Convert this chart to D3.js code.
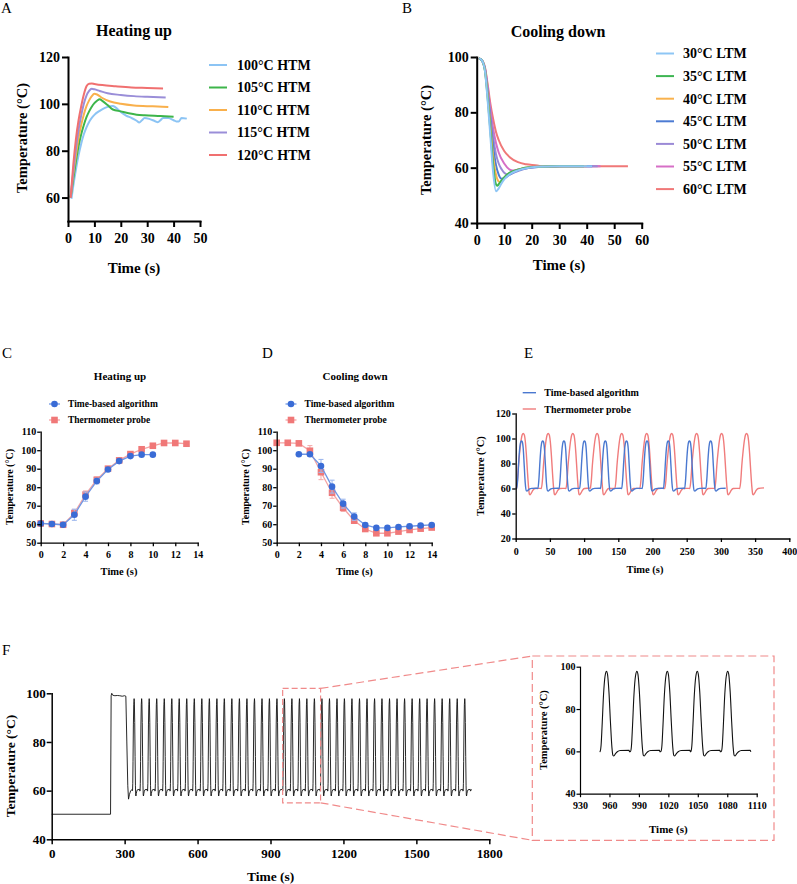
<!DOCTYPE html>
<html><head><meta charset="utf-8">
<script src="https://cdn.jsdelivr.net/npm/d3@7"></script>
<style>body{margin:0;background:#fff}svg{display:block}</style>
</head><body><svg id="fig" width="797" height="884"></svg>
<script>
// ---------------- DATA ----------------
// Panel A: heating up, [time s, temperature °C]
const heatLabels = ["100°C HTM","105°C HTM","110°C HTM","115°C HTM","120°C HTM"];
const heat100 = [[1.3,59.5],[2,65],[3,72],[4,78],[5,83],[6,87],[7,90],[8,92.3],[9,94],[10,95.3],[12,97],[14,98.3],[16,99],[17,99.1],[18,98.5],[20,96.5],[22,95],[24,94],[26,92.8],[27,92],[28,93],[29,94],[31,93.5],[33,92.6],[34,92.2],[35,93],[36,94],[38,94],[40,93],[41,92.5],[42,92.5],[43,94],[45,93.7]];
const heat105 = [[1,60],[2,68],[3,75.5],[4,82],[5,87],[6,91],[7,94.3],[8,96.8],[9,98.8],[10,100.3],[11,101.3],[12,102],[13,101.3],[15,99.5],[17,97.6],[20,96.8],[23,96],[26,95.4],[29,95.1],[35,94.8],[40,94.5]];
const heat110 = [[1,60],[2,70],[3,78],[4,85.5],[5,91],[6,95.5],[7,99],[8,101.5],[9,103.3],[10,104.3],[11,104],[13,102.5],[16,101],[20,100],[25,99.3],[30,99],[34,98.9],[38,98.7]];
const heat115 = [[1,60],[2,71],[3,81],[4,89],[5,95],[6,100],[7,103.5],[8,105.5],[9,106.4],[10,106.2],[12,105.5],[15,104.5],[20,103.8],[25,103.3],[30,103],[37,102.7]];
const heat120 = [[1,60],[2,74],[3,85],[4,93],[5,99],[6,104],[7,107.5],[8,108.6],[9,108.7],[10,108.5],[13,108],[18,107.5],[24,107],[30,106.8],[36,106.6]];
const heatSeries = [heat100, heat105, heat110, heat115, heat120];
const heatColors = ["#8CC4F4","#3DB54A","#F9B04C","#9A8ED8","#F07070"];

// Panel B: cooling down
const coolLabels = ["30°C LTM","35°C LTM","40°C LTM","45°C LTM","50°C LTM","55°C LTM","60°C LTM"];
const cool30 = [[0.8,99.5],[1.5,99.2],[2.3,98],[3,95],[4,84],[5,71],[6,58],[7,51.5],[8,52.5],[9,54.3],[10,55.8],[12,57.6],[15,59],[18,59.8],[22,60.3],[30,60.5],[42,60.5]];
const cool35 = [[0.8,99.5],[1.5,99.2],[2.3,98],[3,95],[4,85],[5,73],[6,61],[7,54],[7.5,53.5],[8,54],[9,55.3],[10,56.5],[12,58.2],[15,59.3],[20,60.2],[30,60.5],[39,60.5]];
const cool40 = [[0.8,99.5],[1.5,99.2],[2.3,98],[3,95.3],[4,86],[5,75],[6,64],[7,57.5],[8,55],[8.5,54.8],[9,55.2],[10,56.4],[12,58],[15,59.3],[20,60.2],[30,60.5],[40,60.5]];
const cool45 = [[0.8,99.5],[1.5,99.2],[2.3,98],[3,95.5],[4,87],[5,77],[6,67.5],[7,61],[8,57.5],[9,56],[10,56.2],[12,57.5],[15,59],[20,60.1],[30,60.5],[42,60.5]];
const cool50 = [[0.8,99.5],[1.5,99.2],[2.3,98],[3,95.8],[4,88],[5,79],[6,71],[7,65],[8,61.5],[9,59.5],[10,58.2],[11.5,57.5],[13,58],[15,58.8],[18,59.7],[22,60.2],[30,60.5],[44,60.5]];
const cool55 = [[0.8,99.5],[1.5,99.2],[2.3,98],[3,96],[4,89],[5,81],[6,74],[7,69],[8,65.5],[10,61.5],[12,59.3],[13,59],[15,59.3],[18,59.9],[22,60.3],[30,60.5],[45,60.5]];
const cool60 = [[0.8,99.5],[1.5,99.2],[2.3,98.3],[3,96.3],[4,90],[5,83],[6,77.5],[7,73],[8,70],[10,66],[12,63.8],[15,62],[18,61.2],[22,60.8],[25,60.2],[28,60.3],[32,60.5],[55,60.5]];
const coolSeries = [cool30, cool35, cool40, cool45, cool50, cool55, cool60];
const coolColors = ["#8EC6F5","#3DB552","#F9B24D","#4C7BD3","#9B8AD6","#D66FC6","#F07878"];

// Panel C: heating up, mean ± SD
const cProbeTime = [0,1,2,3,4,5,6,7,8,9,10,11,12,13];
const cProbe     = [60.4,60.1,59.7,66,76,84,90,94.5,97.9,100.5,102.4,103.9,103.9,103.5];
const cProbeSD   = [0.5,0.4,0.4,2,2,1.5,1.2,1,0.8,0.6,0.6,0.5,0.5,0.5];
const cAlgoTime  = [0,1,2,3,4,5,6,7,8,9,10];
const cAlgo      = [60.4,60.1,59.7,65.1,74.9,83.3,89.6,94.1,96.8,97.6,97.6];
const cAlgoSD    = [0.4,0.4,0.4,3,2.5,1.5,1,0.8,0.6,0.5,0.5];

// Panel D: cooling down, mean ± SD
const dProbeTime = [0,1,2,3,4,5,6,7,8,9,10,11,12,13,14];
const dProbe     = [104,104,103.7,99.7,88.1,77,68.9,61.9,57.4,55.1,55.1,56,56.9,57.6,58.2];
const dProbeSD   = [0.5,0.5,0.5,2.8,4,3,2,1.2,0.8,0.6,0.6,0.6,0.6,0.6,0.6];
const dAlgoTime  = [2,3,4,5,6,7,8,9,10,11,12,13,14];
const dAlgo      = [97.8,97.8,91.5,80.3,71.1,64.1,59.6,58,58,58.5,58.9,59.3,59.6];
const dAlgoSD    = [0.5,0.8,3.5,3.5,2.4,2,1,0.6,0.5,0.5,0.5,0.5,0.5];

const legendNames = ["Time-based algorithm","Thermometer probe"];

// Panel E: cycles (peak times, one cycle shape per series)
const eAlgoPeaks  = [8.5,39.5,70.5,100.5,131,162,192,223,254,285];
const eAlgoShape  = [[-7,60],[-5.5,68],[-4,82],[-2.5,93],[-1,97.5],[0,98],[1,97.5],[2.5,92],[4,78],[5.5,64],[7,58.2],[8,58],[10,58.9],[12,59.7],[15,60.1],[22.5,60.2]];
const eAlgoEnds   = [[0,60],[307,60.2]];
const eProbePeaks = [11,47.5,83.5,119,155,191.5,228,264.5,301,337.5];
const eProbeShape = [[-10,60],[-8.5,66],[-7,78],[-5,90],[-3,99],[-1.5,103],[0,104],[1.5,103],[3,98],[4.5,88],[6,75],[7.5,63],[9,55.5],[10,55],[12,56.5],[14,58.5],[17,60],[26,60.3]];
const eProbeEnds  = [[1,60],[363,60.5]];

// Panel F: long run
const fHead  = [[0,50.3],[242,50.3],[244.5,99],[247,100],[251,99.2],[260,99],[270,99.1],[280,99],[290,98.8],[300,99],[305,98.8],[309,80],[313,62],[316,56.5],[320,58.5],[325,60],[331,60.4]];
const fPeaks = [339,370,401,432,463,494,524.5,555.5,586.5,617.5,648.5,679.5,710,741,772,803,834,865,895.5,926.5,957,988,1019,1049.5,1080.5,1111.5,1142.5,1173.5,1204,1235,1266,1297,1328,1358.5,1389.5,1420.5,1451.5,1482.5,1513.5,1544,1575,1606,1637,1668,1699];
const fShape = [[-6.5,60],[-5.5,63],[-4.5,72],[-3,87],[-1.5,95.5],[0,97.8],[1,96.5],[2.5,88],[4,74],[5.5,62],[6.5,58.2],[7.5,57.8],[9,58.8],[11,59.8],[14,60.4],[23,60.5],[23.5,59.8]];
const fEnd   = 1727;

// ticks
const ticksA = {x:[0,10,20,30,40,50], y:[60,80,100,120]};
const ticksB = {x:[0,10,20,30,40,50,60], y:[40,60,80,100]};
const ticksCD = {x:[0,2,4,6,8,10,12,14], y:[50,60,70,80,90,100,110]};
const ticksE = {x:[0,50,100,150,200,250,300,350,400], y:[20,40,60,80,100,120]};
const ticksF = {x:[0,300,600,900,1200,1500,1800], y:[40,60,80,100]};
const ticksI = {x:[930,960,990,1020,1050,1080,1110], y:[40,60,80,100]};

// ---------------- DRAWING ----------------
const FONT = '"Liberation Serif","Times New Roman",Times,serif';
const svg = d3.select("#fig");

function txt(x, y, s, size, o = {}) {
  const t = svg.append("text").attr("x", x).attr("y", y).attr("dy", "0.35em")
    .attr("font-size", size).attr("font-family", FONT)
    .attr("font-weight", o.w || "bold").attr("text-anchor", o.a || "middle")
    .attr("fill", "#000").text(s);
  if (o.rot) t.attr("transform", `rotate(-90,${x},${y})`);
  return t;
}

function axes(x, y, t, o) {
  const g = svg.append("g");
  const xa = d3.axisBottom(x).tickValues(t.x).tickSize(o.tl).tickSizeOuter(0).tickPadding(o.xp).tickFormat(d => d);
  const ya = d3.axisLeft(y).tickValues(t.y).tickSize(o.tl).tickSizeOuter(0).tickPadding(o.yp).tickFormat(d => d);
  const gx = g.append("g").attr("transform", `translate(0,${y.range()[0]})`).call(xa);
  const gy = g.append("g").attr("transform", `translate(${x.range()[0]},0)`).call(ya);
  [gx, gy].forEach(a => {
    a.select(".domain").attr("stroke", "#000").attr("stroke-width", o.sw).attr("stroke-linecap", "square");
    a.selectAll(".tick line").attr("stroke", "#000").attr("stroke-width", o.sw);
    a.selectAll("text").attr("font-size", o.fs).attr("font-family", FONT).attr("font-weight", "bold").attr("fill", "#000");
  });
  return g;
}

function cycles(peaks, shape) {
  const out = [];
  peaks.forEach(p => shape.forEach(([dt, v]) => out.push([p + dt, v])));
  return out;
}

// ---- Panel A ----
const xA = d3.scaleLinear().domain([0, 50]).range([68, 200]);
const yA = d3.scaleLinear().domain([50, 120]).range([221, 57]);
const lineA = d3.line().x(d => xA(d[0])).y(d => yA(d[1])).curve(d3.curveMonotoneX);
heatSeries.forEach((s, i) => svg.append("path").attr("d", lineA(s)).attr("fill", "none")
  .attr("stroke", heatColors[i]).attr("stroke-width", 2));
axes(xA, yA, ticksA, {tl: 6, xp: 6, yp: 2, sw: 2, fs: 14});
txt(1, 8, "A", 15, {w: "normal", a: "start"});
txt(134, 30, "Heating up", 16);
txt(134, 268, "Time (s)", 15);
txt(21.7, 138, "Temperature (°C)", 14.5, {rot: true});
heatLabels.forEach((l, i) => {
  const yy = 65 + i * 22.5;
  svg.append("line").attr("x1", 209).attr("x2", 227).attr("y1", yy).attr("y2", yy)
    .attr("stroke", heatColors[i]).attr("stroke-width", 2);
  txt(237, yy, l, 14, {a: "start"});
});

// ---- Panel B ----
const xB = d3.scaleLinear().domain([0, 60]).range([476.7, 641.7]);
const yB = d3.scaleLinear().domain([40, 100]).range([223, 57]);
const lineB = d3.line().x(d => xB(d[0])).y(d => yB(d[1])).curve(d3.curveMonotoneX);
coolSeries.slice().reverse().forEach((s, j) => {
  const i = coolSeries.length - 1 - j;
  svg.append("path").attr("d", lineB(s)).attr("fill", "none")
    .attr("stroke", coolColors[i]).attr("stroke-width", 2);
});
axes(xB, yB, ticksB, {tl: 6, xp: 6, yp: 2, sw: 2, fs: 14});
txt(402, 8, "B", 15, {w: "normal", a: "start"});
txt(558, 31, "Cooling down", 16);
txt(559, 265, "Time (s)", 15);
txt(425.7, 140, "Temperature (°C)", 14.5, {rot: true});
coolLabels.forEach((l, i) => {
  const yy = 53.5 + i * 22.6;
  svg.append("line").attr("x1", 656).attr("x2", 674).attr("y1", yy).attr("y2", yy)
    .attr("stroke", coolColors[i]).attr("stroke-width", 2);
  txt(683, yy, l, 14, {a: "start"});
});

// ---- Panels C & D ----
const blue = {mark: "#3A6CD6", line: "#6F96E4", err: "#9FB9EE"};
const red  = {mark: "#F07878", line: "#F4A3A3", err: "#F5B0B0"};

function meanPanel(x, y, sets) {
  const line = d3.line().x(d => x(d[0])).y(d => y(d[1]));
  sets.forEach(s => {
    const pts = s.t.map((t, i) => [t, s.v[i], s.e[i]]);
    svg.append("path").attr("d", line(pts)).attr("fill", "none").attr("stroke", s.c.line).attr("stroke-width", 1.3);
    const g = svg.append("g");
    pts.forEach(p => {
      const x0 = x(p[0]), yl = y(p[1] - p[2]), yh = y(p[1] + p[2]);
      g.append("line").attr("x1", x0).attr("x2", x0).attr("y1", yl).attr("y2", yh).attr("stroke", s.c.err).attr("stroke-width", 1.1);
      [yl, yh].forEach(yy => g.append("line").attr("x1", x0 - 2.5).attr("x2", x0 + 2.5).attr("y1", yy).attr("y2", yy).attr("stroke", s.c.err).attr("stroke-width", 1.1));
    });
    pts.forEach(p => {
      if (s.shape === "circle") g.append("circle").attr("cx", x(p[0])).attr("cy", y(p[1])).attr("r", 3.3).attr("fill", s.c.mark);
      else g.append("rect").attr("x", x(p[0]) - 3.3).attr("y", y(p[1]) - 3.3).attr("width", 6.6).attr("height", 6.6).attr("fill", s.c.mark);
    });
  });
}

function meanLegend(xm, y0) {
  [[blue, "circle"], [red, "square"]].forEach(([c, sh], i) => {
    const yy = y0 + i * 16;
    svg.append("line").attr("x1", xm - 5.5).attr("x2", xm + 5.5).attr("y1", yy).attr("y2", yy).attr("stroke", c.line).attr("stroke-width", 1.3);
    if (sh === "circle") svg.append("circle").attr("cx", xm).attr("cy", yy).attr("r", 3.3).attr("fill", c.mark);
    else svg.append("rect").attr("x", xm - 3.3).attr("y", yy - 3.3).attr("width", 6.6).attr("height", 6.6).attr("fill", c.mark);
    txt(xm + 13.5, yy, legendNames[i], 9.5, {a: "start"});
  });
}

const yCD = d3.scaleLinear().domain([50, 110]).range([542.7, 431.7]);
const xC = d3.scaleLinear().domain([0, 14]).range([40.7, 197.7]);
meanPanel(xC, yCD, [
  {t: cProbeTime, v: cProbe, e: cProbeSD, c: red, shape: "square"},
  {t: cAlgoTime, v: cAlgo, e: cAlgoSD, c: blue, shape: "circle"}]);
axes(xC, yCD, ticksCD, {tl: 3.5, xp: 5, yp: 1, sw: 1.3, fs: 10});
txt(2, 353, "C", 15, {w: "normal", a: "start"});
txt(120, 376, "Heating up", 11);
meanLegend(54.5, 404);
txt(119, 571, "Time (s)", 10.5);
txt(9.5, 487, "Temperature (°C)", 10, {rot: true});

const xD = d3.scaleLinear().domain([0, 14]).range([276.7, 431.7]);
meanPanel(xD, yCD, [
  {t: dProbeTime, v: dProbe, e: dProbeSD, c: red, shape: "square"},
  {t: dAlgoTime, v: dAlgo, e: dAlgoSD, c: blue, shape: "circle"}]);
axes(xD, yCD, ticksCD, {tl: 3.5, xp: 5, yp: 1, sw: 1.3, fs: 10});
txt(262, 353, "D", 15, {w: "normal", a: "start"});
txt(355, 376, "Cooling down", 11);
meanLegend(291, 404);
txt(354.3, 571, "Time (s)", 10.5);
txt(245, 487, "Temperature (°C)", 10, {rot: true});

// ---- Panel E ----
const xE = d3.scaleLinear().domain([0, 400]).range([515.7, 789.3]);
const yE = d3.scaleLinear().domain([20, 120]).range([538.5, 413.5]);
const lineE = d3.line().x(d => xE(d[0])).y(d => yE(d[1])).curve(d3.curveMonotoneX);
const eProbe = [eProbeEnds[0], ...cycles(eProbePeaks, eProbeShape).filter(d => d[0] > eProbeEnds[0][0] && d[0] < eProbeEnds[1][0]), eProbeEnds[1]];
const eAlgo = [eAlgoEnds[0], ...cycles(eAlgoPeaks, eAlgoShape).filter(d => d[0] > eAlgoEnds[0][0] && d[0] < eAlgoEnds[1][0]), eAlgoEnds[1]];
svg.append("path").attr("d", lineE(eProbe)).attr("fill", "none").attr("stroke", "#F07C7C").attr("stroke-width", 1.4);
svg.append("path").attr("d", lineE(eAlgo)).attr("fill", "none").attr("stroke", "#4A78D0").attr("stroke-width", 1.4);
axes(xE, yE, ticksE, {tl: 3.5, xp: 5.5, yp: 1.5, sw: 1.3, fs: 10});
txt(524, 353, "E", 15, {w: "normal", a: "start"});
[["#4A78D0", legendNames[0]], ["#F07C7C", legendNames[1]]].forEach(([c, l], i) => {
  const yy = 392.7 + i * 16.3;
  svg.append("line").attr("x1", 522.7).attr("x2", 536).attr("y1", yy).attr("y2", yy).attr("stroke", c).attr("stroke-width", 1.4);
  txt(544.3, yy, l, 10, {a: "start"});
});
txt(645, 569, "Time (s)", 10.5);
txt(480, 476, "Temperature (°C)", 10.5, {rot: true});

// ---- Panel F ----
const xF = d3.scaleLinear().domain([0, 1800]).range([51.7, 489.3]);
const yF = d3.scaleLinear().domain([40, 100]).range([839.3, 693.3]);
const fSeries = [...fHead, ...cycles(fPeaks, fShape).filter(d => d[0] < fEnd), [fEnd, 60.5]];
const lineF = d3.line().x(d => xF(d[0])).y(d => yF(d[1]));
svg.append("path").attr("d", lineF(fSeries)).attr("fill", "none").attr("stroke", "#111").attr("stroke-width", 0.9);
axes(xF, yF, ticksF, {tl: 5, xp: 4.5, yp: 1, sw: 1.5, fs: 13});
txt(2, 650, "F", 15, {w: "normal", a: "start"});
txt(270.7, 876, "Time (s)", 13.5);
txt(10.7, 766, "Temperature (°C)", 13.5, {rot: true});

// zoom box
const zoomRange = {t0: 950, t1: 1106, v0: 55, v1: 102};
const pink = "#F08A8A";
const frame = {x: 532.3, y: 656, w: 241.7, h: 184.3};
svg.append("rect").attr("x", xF(zoomRange.t0)).attr("y", yF(zoomRange.v1))
  .attr("width", xF(zoomRange.t1) - xF(zoomRange.t0)).attr("height", yF(zoomRange.v0) - yF(zoomRange.v1))
  .attr("fill", "none").attr("stroke", pink).attr("stroke-width", 1.2).attr("stroke-dasharray", "6,3");
svg.append("rect").attr("x", frame.x).attr("y", frame.y).attr("width", frame.w).attr("height", frame.h)
  .attr("fill", "none").attr("stroke", pink).attr("stroke-width", 1.2).attr("stroke-dasharray", "8,4");
svg.append("line").attr("x1", xF(zoomRange.t1)).attr("y1", yF(zoomRange.v1)).attr("x2", frame.x).attr("y2", frame.y)
  .attr("stroke", pink).attr("stroke-width", 1.2).attr("stroke-dasharray", "8,4");
svg.append("line").attr("x1", xF(zoomRange.t1)).attr("y1", yF(zoomRange.v0)).attr("x2", frame.x).attr("y2", frame.y + frame.h)
  .attr("stroke", pink).attr("stroke-width", 1.2).attr("stroke-dasharray", "8,4");

// inset
const xI = d3.scaleLinear().domain([930, 1110]).range([580, 756.7]);
const yI = d3.scaleLinear().domain([40, 100]).range([793.7, 666.7]);
const lineI = d3.line().x(d => xI(d[0])).y(d => yI(d[1])).curve(d3.curveMonotoneX);
const insetData = fSeries.filter(d => d[0] >= 950 && d[0] <= 1104);
svg.append("path").attr("d", lineI(insetData)).attr("fill", "none").attr("stroke", "#111").attr("stroke-width", 1.1);
axes(xI, yI, ticksI, {tl: 3.5, xp: 5, yp: 1, sw: 1.2, fs: 10});
txt(668.3, 829.3, "Time (s)", 11);
txt(543.3, 730, "Temperature (°C)", 10.5, {rot: true});
</script></body></html>
